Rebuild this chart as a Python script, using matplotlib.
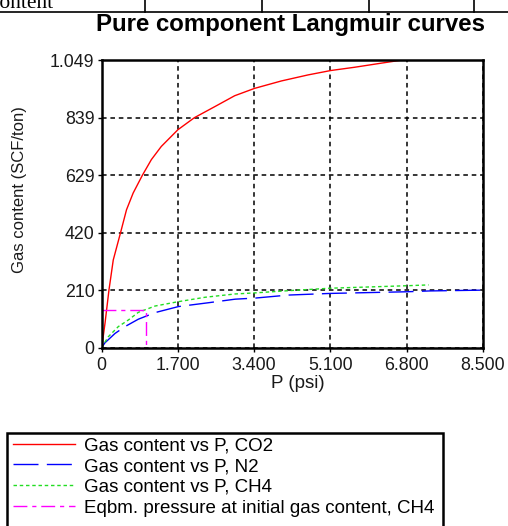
import matplotlib.pyplot as plt
from matplotlib.lines import Line2D
from matplotlib.patches import Rectangle

plt.rcParams['font.family'] = ['Liberation Sans', 'DejaVu Sans']

# Pressure (psi) / gas content (SCF/ton) pairs for each pure component
p_co2 = [0, 18, 78, 166, 262, 425, 557, 705, 911, 1111, 1332, 1702, 2070,
         2521, 2967, 3413, 4009, 4603, 5109, 5644, 6240, 6690]
v_co2 = [0, 16, 89, 210, 320, 420, 503, 564, 629, 686, 734, 795, 839,
         879, 919, 946, 973, 995, 1011, 1023, 1038, 1049]

p_n2 = [0, 78, 301, 524, 821, 1194, 1714, 2383, 2978, 3424, 4167, 5100,
        6800, 7300, 8500]
v_n2 = [0, 18, 52, 77, 104, 128, 150, 164, 177, 181, 192, 198, 204, 207, 210]

p_ch4 = [0, 152, 375, 598, 821, 1194, 1714, 2309, 2978, 3424, 4167, 5100,
         6800, 7287]
v_ch4 = [0, 40, 77, 101, 129, 152, 168, 184, 196, 200, 208, 217, 226, 229]

# equilibrium pressure at the initial CH4 gas content
p_eq = 995
v_eq = 136

x_ticks = [0, 1700, 3400, 5100, 6800, 8500]
x_labels = ['0', '1.700', '3.400', '5.100', '6.800', '8.500']
y_ticks = [0, 210, 420, 629, 839, 1049]
y_labels = ['0', '210', '420', '629', '839', '1.049']

W, H = 508, 526
fig = plt.figure(figsize=(W / 100, H / 100), dpi=100)
ax = fig.add_axes([101.5 / W, 1 - 347.7 / H, 381.5 / W, 287.6 / H])

ax.plot(p_co2, v_co2, color='red', lw=1.0, label='Gas content vs P, CO2')
ax.plot(p_n2, v_n2, color='blue', lw=1.0, dashes=(18, 6),
        label='Gas content vs P, N2')
ax.plot(p_ch4, v_ch4, color='#22dd22', lw=1.0, dashes=(2.5, 2),
        label='Gas content vs P, CH4')
ax.plot([0, p_eq, p_eq], [v_eq, v_eq, 0], color='magenta', lw=1.0,
        dashes=(10, 3.5, 3, 3.5),
        label='Eqbm. pressure at initial gas content, CH4')

ax.set_xlim(0, 8500)
ax.set_ylim(0, 1049)
ax.set_xticks(x_ticks)
ax.set_xticklabels(x_labels)
ax.set_yticks(y_ticks)
ax.set_yticklabels(y_labels)
ax.tick_params(labelsize=12.8, labelcolor='#1a1a1a', length=3, width=1,
               direction='out', pad=2)
ax.tick_params(axis='x', pad=4)
ax.grid(True, color='black', lw=1.1, dashes=(3, 2.5))
for s in ax.spines.values():
    s.set_linewidth(1.8)

fig.text(290.5 / W, 1 - 25 / H, 'Pure component Langmuir curves',
         ha='center', va='center', fontsize=17.3, fontweight='bold')
fig.text(298 / W, 1 - 383 / H, 'P (psi)', ha='center', va='center',
         fontsize=13.5, color='#1a1a1a')
fig.text(20 / W, 1 - 190 / H, 'Gas content (SCF/ton)', ha='center',
         va='center', rotation=90, fontsize=12, color='#1a1a1a')

# legend box runs off the bottom edge
fig.add_artist(Rectangle((7 / W, -0.05), 436 / W, 0.05 + 1 - 432.7 / H,
                         transform=fig.transFigure, fill=False,
                         edgecolor='black', lw=1.8))
handles, labels = ax.get_legend_handles_labels()
fig.legend(handles, labels, loc='upper left',
           bbox_to_anchor=(13 / W, 1 - 437 / H), frameon=False,
           fontsize=13.5, handlelength=3.3, handletextpad=0.5,
           labelspacing=0.2, borderpad=0, borderaxespad=0)

# strip of the surrounding table above the chart
fig.add_artist(Line2D([0, 1], [1 - 12 / H, 1 - 12 / H],
                      transform=fig.transFigure, color='black', lw=1.2))
for xv in [145, 262, 369, 474]:
    fig.add_artist(Line2D([xv / W, xv / W], [1 - 12 / H, 1],
                          transform=fig.transFigure, color='black', lw=1.2))
fig.text(-15 / W, 1 - 7.5 / H, 'Content', ha='left', va='baseline',
         fontsize=15.5, family='Liberation Serif')

fig.savefig('out.png', dpi=100)
